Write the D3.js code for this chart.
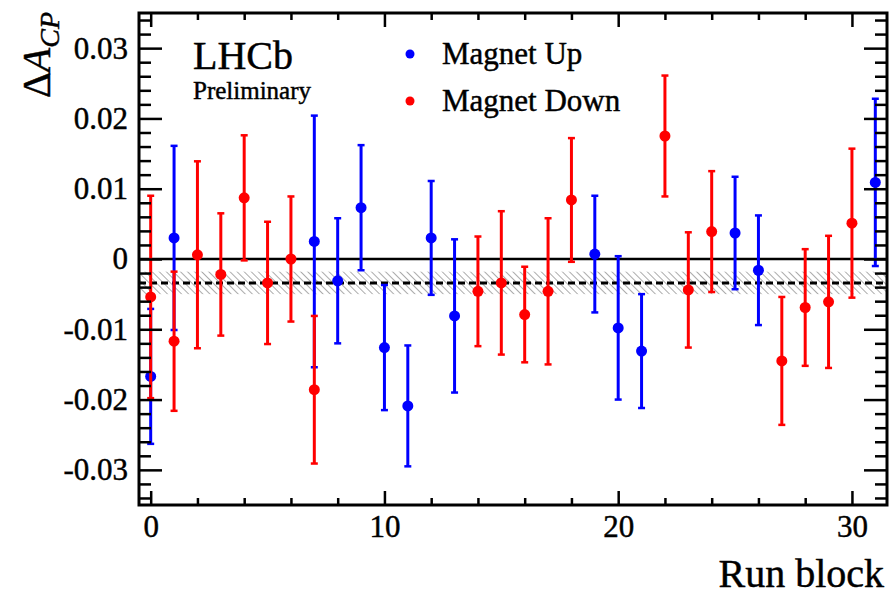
<!DOCTYPE html>
<html>
<head>
<meta charset="utf-8">
<script src="https://cdn.jsdelivr.net/npm/d3@7/dist/d3.min.js"></script>
<style>
  html, body { margin: 0; padding: 0; background: #fff; }
  svg { display: block; }
  svg text { font-family: "Liberation Serif", "DejaVu Serif", serif; stroke: #000; stroke-width: 0.45px; }
</style>
</head>
<body>
<svg id="chart" width="896" height="596"></svg>
<script>
// Delta A_CP per run block, split by magnet polarity
const upBlocks = [0, 1, 7, 8, 9, 10, 11, 12, 13, 19, 20, 21, 25, 26, 31];
const upValues = [-0.0167, 0.0030, 0.0025, -0.0031, 0.0073, -0.0126, -0.0209, 0.0030, -0.0081, 0.0007, -0.0098, -0.0131, 0.0037, -0.0016, 0.0109];
const upErrors = [0.0096, 0.0131, 0.0179, 0.0089, 0.0089, 0.0089, 0.0086, 0.0081, 0.0109, 0.0083, 0.0102, 0.0081, 0.0080, 0.0078, 0.0119];

const downBlocks = [0, 1, 2, 3, 4, 5, 6, 7, 14, 15, 16, 17, 18, 22, 23, 24, 27, 28, 29, 30];
const downValues = [-0.0054, -0.0117, 0.0006, -0.0022, 0.0087, -0.0034, 0.0000, -0.0186, -0.0046, -0.0034, -0.0079, -0.0046, 0.0084, 0.0175, -0.0044, 0.0039, -0.0145, -0.0069, -0.0061, 0.0051];
const downErrors = [0.0144, 0.0099, 0.0133, 0.0087, 0.0089, 0.0087, 0.0089, 0.0105, 0.0078, 0.0102, 0.0068, 0.0104, 0.0088, 0.0086, 0.0082, 0.0086, 0.0091, 0.0083, 0.0094, 0.0106];

// Combined average with its uncertainty band
const averageValue = [-0.0034];
const averageError = [0.0016];

const xTickValues = [0, 10, 20, 30];
const xTickLabels = ["0", "10", "20", "30"];
const yTickValues = [-0.03, -0.02, -0.01, 0, 0.01, 0.02, 0.03];
const yTickLabels = ["-0.03", "-0.02", "-0.01", "0", "0.01", "0.02", "0.03"];

const seriesNames = ["Magnet Up", "Magnet Down"];
const seriesColors = ["#0000ff", "#ff0000"];

const svg = d3.select("#chart");
const L = 139, R = 887, T = 13, B = 505;
const SERIF = "Liberation Serif";

const x = d3.scaleLinear().domain([-0.5, 31.5]).range([L, R]);
const y = d3.scaleLinear().domain([-0.035, 0.035]).range([B, T]);

// hatch pattern for the average band
const defs = svg.append("defs");
const pat = defs.append("pattern")
  .attr("id", "hatch")
  .attr("patternUnits", "userSpaceOnUse")
  .attr("width", 5).attr("height", 10)
  .attr("patternTransform", "rotate(-45)");
pat.append("line")
  .attr("x1", 0).attr("y1", 0).attr("x2", 0).attr("y2", 10)
  .attr("stroke", "#8f8f8f").attr("stroke-width", 1.5);
defs.append("clipPath").attr("id", "plotClip")
  .append("rect").attr("x", L).attr("y", T).attr("width", R - L).attr("height", B - T);

const plot = svg.append("g").attr("clip-path", "url(#plotClip)");

plot.append("rect")
  .attr("x", L).attr("width", R - L)
  .attr("y", y(averageValue[0] + averageError[0]))
  .attr("height", y(averageValue[0] - averageError[0]) - y(averageValue[0] + averageError[0]))
  .attr("fill", "url(#hatch)");

plot.append("line")
  .attr("x1", L).attr("x2", R).attr("y1", y(0)).attr("y2", y(0))
  .attr("stroke", "#000").attr("stroke-width", 2.5);

plot.append("line")
  .attr("x1", L).attr("x2", R).attr("y1", y(averageValue[0])).attr("y2", y(averageValue[0]))
  .attr("stroke", "#000").attr("stroke-width", 3).attr("stroke-dasharray", "7,4");

function drawSeries(blocks, values, errors, color) {
  const data = blocks.map((b, i) => ({ b, v: values[i], e: errors[i] }));
  const g = plot.append("g");
  g.selectAll("line.bar").data(data).join("line")
    .attr("class", "bar")
    .attr("x1", d => x(d.b)).attr("x2", d => x(d.b))
    .attr("y1", d => y(d.v + d.e)).attr("y2", d => y(d.v - d.e))
    .attr("stroke", color).attr("stroke-width", 3);
  ["top", "bot"].forEach(k => {
    g.selectAll("line.cap" + k).data(data).join("line")
      .attr("class", "cap" + k)
      .attr("x1", d => x(d.b) - 3.5).attr("x2", d => x(d.b) + 3.5)
      .attr("y1", d => y(k === "top" ? d.v + d.e : d.v - d.e))
      .attr("y2", d => y(k === "top" ? d.v + d.e : d.v - d.e))
      .attr("stroke", color).attr("stroke-width", 2.5);
  });
  g.selectAll("circle").data(data).join("circle")
    .attr("cx", d => x(d.b)).attr("cy", d => y(d.v)).attr("r", 5.5)
    .attr("fill", color);
}
drawSeries(upBlocks, upValues, upErrors, seriesColors[0]);
drawSeries(downBlocks, downValues, downErrors, seriesColors[1]);

// axes: ticks point inward on all four sides
const xMinor = d3.range(0, 31, 2).filter(v => v % 10 !== 0);
const yMinor = d3.range(-34, 35, 2).map(v => v / 1000).filter(v => Math.abs(Math.round(v * 1000)) % 10 !== 0);

const fmtX = v => xTickLabels[xTickValues.indexOf(v)];
const fmtY = v => yTickLabels[yTickValues.findIndex(t => Math.abs(t - v) < 1e-9)];

function styleAxis(g) {
  g.attr("font-family", SERIF).attr("font-size", 31);
  g.select(".domain").remove();
  g.selectAll("line").attr("stroke", "#000").attr("stroke-width", 2.5);
  g.selectAll("text").attr("fill", "#000")
    .style("font-family", SERIF).style("font-size", "31px");
}

svg.append("g").attr("transform", `translate(0,${B})`)
  .call(d3.axisBottom(x).tickValues(xTickValues).tickFormat(fmtX).tickSizeInner(-14).tickSizeOuter(0).tickPadding(10))
  .call(styleAxis);
svg.append("g").attr("transform", `translate(0,${B})`)
  .call(d3.axisBottom(x).tickValues(xMinor).tickFormat("").tickSizeInner(-7).tickSizeOuter(0))
  .call(styleAxis);
svg.append("g").attr("transform", `translate(0,${T})`)
  .call(d3.axisTop(x).tickValues(xTickValues).tickFormat("").tickSizeInner(-14).tickSizeOuter(0))
  .call(styleAxis);
svg.append("g").attr("transform", `translate(0,${T})`)
  .call(d3.axisTop(x).tickValues(xMinor).tickFormat("").tickSizeInner(-7).tickSizeOuter(0))
  .call(styleAxis);

svg.append("g").attr("transform", `translate(${L},0)`)
  .call(d3.axisLeft(y).tickValues(yTickValues).tickFormat(fmtY).tickSizeInner(-23).tickSizeOuter(0).tickPadding(11))
  .call(styleAxis);
svg.append("g").attr("transform", `translate(${L},0)`)
  .call(d3.axisLeft(y).tickValues(yMinor).tickFormat("").tickSizeInner(-12).tickSizeOuter(0))
  .call(styleAxis);
svg.append("g").attr("transform", `translate(${R},0)`)
  .call(d3.axisRight(y).tickValues(yTickValues).tickFormat("").tickSizeInner(-23).tickSizeOuter(0))
  .call(styleAxis);
svg.append("g").attr("transform", `translate(${R},0)`)
  .call(d3.axisRight(y).tickValues(yMinor).tickFormat("").tickSizeInner(-12).tickSizeOuter(0))
  .call(styleAxis);

// frame
svg.append("rect")
  .attr("x", L).attr("y", T).attr("width", R - L).attr("height", B - T)
  .attr("fill", "none").attr("stroke", "#000").attr("stroke-width", 3);

// axis titles
svg.append("text")
  .attr("x", 884).attr("y", 587)
  .attr("text-anchor", "end").attr("font-size", 40).attr("fill", "#000")
  .text("Run block");

const yt = svg.append("text")
  .attr("transform", "translate(50,12) rotate(-90)")
  .attr("text-anchor", "end").attr("font-size", 40).attr("fill", "#000");
yt.append("tspan").text("Δ");
yt.append("tspan").attr("font-style", "italic").text("A");
yt.append("tspan").attr("font-style", "italic").attr("font-size", 28).attr("dy", 9).text("CP");

// experiment label
svg.append("text").attr("x", 193).attr("y", 69).attr("font-size", 40).attr("fill", "#000").text("LHCb");
svg.append("text").attr("x", 193).attr("y", 99).attr("font-size", 25).attr("fill", "#000").text("Preliminary");

// legend
const legendY = [54, 101];
seriesNames.forEach((name, i) => {
  svg.append("circle").attr("cx", 410).attr("cy", legendY[i]).attr("r", 4.5).attr("fill", seriesColors[i]);
  svg.append("text").attr("x", 442).attr("y", legendY[i] + 10)
    .attr("font-size", 31).attr("fill", "#000").text(name);
});
</script>
</body>
</html>
